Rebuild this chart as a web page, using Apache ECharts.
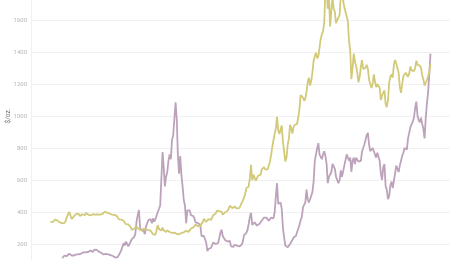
<!DOCTYPE html>
<html>
<head>
<meta charset="utf-8">
<script src="https://cdn.jsdelivr.net/npm/echarts@6/dist/echarts.min.js"></script>
<style>
html,body{margin:0;padding:0;background:#fff;overflow:hidden;width:450px;height:260px;}
#c{position:absolute;left:0;top:-60px;width:450px;height:360px;}
</style>
</head>
<body>
<div id="c"></div>
<script>
// Monthly series (mid-month values), $/oz.
const goldStart = [1992, 3];
const goldValues = [
  340, 338, 337, 343, 352, 342, 346, 343, 335, 333,
  329, 328, 332, 345, 370, 378, 400, 378, 356, 366, 374, 386,
  388, 381, 388, 375, 383, 386, 384, 380, 393, 388, 384, 378,
  378, 376, 386, 391, 384, 388, 385, 383, 384, 382, 387, 387,
  402, 408, 396, 392, 391, 386, 384, 387, 382, 381, 377, 368,
  354, 346, 352, 343, 345, 340, 324, 325, 323, 325, 305, 288,
  290, 297, 296, 308, 298, 292, 293, 284, 290, 296, 294, 290,
  286, 288, 285, 282, 276, 261, 255, 257, 268, 318, 293, 282,
  284, 302, 286, 280, 274, 287, 281, 275, 272, 270, 266, 271,
  265, 262, 263, 261, 273, 269, 267, 273, 285, 282, 275, 276,
  282, 296, 294, 303, 315, 322, 313, 310, 320, 316, 319, 335,
  358, 358, 338, 328, 356, 355, 350, 361, 380, 378, 390, 408,
  414, 405, 407, 402, 384, 392, 398, 401, 406, 421, 440, 442,
  424, 423, 434, 429, 422, 431, 424, 438, 457, 470, 477, 512,
  550, 556, 558, 612, 695, 598, 634, 632, 596, 586, 628, 630,
  632, 666, 655, 680, 666, 655, 666, 664, 714, 756, 808, 804,
  890, 925, 995, 910, 888, 890, 940, 838, 830, 715, 740, 820,
  860, 945, 925, 890, 930, 945, 935, 950, 995, 1045, 1130, 1140,
  1115, 1095, 1110, 1150, 1210, 1240, 1190, 1220, 1275, 1345, 1375, 1395,
  1360, 1375, 1425, 1480, 1510, 1530, 1580, 1780, 1800, 1670, 1740, 1560,
  1660, 1745, 1670, 1650, 1580, 1600, 1590, 1630, 1760, 1750, 1720, 1680,
  1670, 1620, 1595, 1470, 1410, 1230, 1300, 1390, 1340, 1310, 1270, 1210,
  1245, 1310, 1350, 1295, 1285, 1300, 1320, 1295, 1225, 1220, 1175, 1200,
  1260, 1215, 1180, 1200, 1195, 1175, 1100, 1130, 1130, 1160, 1075, 1055,
  1100, 1210, 1245, 1260, 1240, 1320, 1350, 1330, 1320, 1270, 1180, 1145,
  1200, 1250, 1245, 1270, 1260, 1245, 1265, 1310, 1285, 1275, 1280, 1300,
  1345, 1320, 1325, 1315, 1300, 1255, 1230, 1190, 1195, 1225, 1225, 1275,
  1325
];
const palladiumStart = [1993, 1];
const palladiumValues = [
  112, 118, 128, 132, 125, 128, 140, 135, 128, 130, 128, 130,
  135, 133, 135, 138, 140, 142, 148, 150, 148, 152, 150, 156,
  160, 155, 150, 163, 162, 165, 160, 152, 150, 145, 142, 135,
  130, 138, 132, 135, 138, 130, 130, 125, 118, 115, 110, 118,
  125, 145, 160, 172, 205, 190, 215, 200, 185, 200, 205, 230,
  240, 245, 265, 340, 380, 412, 305, 285, 290, 282, 262, 310,
  330, 350, 360, 355, 330, 360, 340, 355, 380, 400, 420, 440,
  445, 775, 680, 560, 620, 650, 720, 760, 730, 850, 880, 880,
  1085, 980, 760, 640, 750, 630, 560, 475, 440, 330, 410, 400,
  410, 380, 370, 375, 360, 335, 325, 330, 320, 320, 250, 240,
  250, 255, 210, 155, 170, 175, 175, 185, 210, 200, 200, 195,
  205, 235, 270, 290, 250, 240, 225, 220, 215, 220, 220, 185,
  185, 182, 195, 200, 190, 185, 185, 190, 195, 215, 255, 260,
  270, 290, 325, 370, 395, 320, 320, 335, 330, 315, 320, 325,
  335, 345, 350, 365, 370, 365, 365, 345, 340, 365, 370, 360,
  400, 500, 580, 450, 440, 460, 420, 300, 240, 190, 190, 180,
  185, 200, 200, 225, 240, 250, 250, 275, 295, 320, 350, 370,
  430, 420, 460, 540, 480, 460, 480, 490, 525, 590, 720, 760,
  800, 830, 760, 770, 730, 760, 780, 750, 700, 580, 620, 630,
  650, 700, 690, 670, 620, 615, 580, 600, 660, 620, 630, 690,
  700, 760, 760, 720, 740, 650, 720, 740, 700, 740, 730, 715,
  720, 720, 775, 800, 820, 830, 880, 895, 820, 780, 790, 800,
  780, 780, 740, 770, 780, 720, 640, 600, 680, 700, 560, 540,
  480, 500, 565, 590, 550, 545, 640, 690, 700, 650, 690, 700,
  750, 770, 800, 800, 790, 860, 850, 930, 935, 965, 990, 1050,
  1090, 1000, 975, 960, 990, 950, 920, 860, 990, 1080, 1150, 1260,
  1390
];
const yTicks = { min: 0, max: 2000, interval: 200 };
const xRange = ['1990-11-01', '2020-06-01'];

function toSeries(start, values) {
  return values.map((v, i) => {
    const y = start[0] + Math.floor((start[1] - 1 + i) / 12);
    const m = (start[1] - 1 + i) % 12;
    return [Date.UTC(y, m, 15), v];
  });
}

const chart = echarts.init(document.getElementById('c'), null, { renderer: 'canvas' });
chart.setOption({
  animation: false,
  grid: { left: 31, right: 0, top: 16, bottom: 24, containLabel: false, outerBoundsMode: 'none' },
  xAxis: {
    type: 'time',
    min: xRange[0],
    max: xRange[1],
    axisLine: { show: false },
    axisTick: { show: false },
    axisLabel: { show: false },
    splitLine: { show: false }
  },
  yAxis: {
    type: 'value',
    min: yTicks.min,
    max: yTicks.max,
    interval: yTicks.interval,
    name: '$/oz.',
    nameLocation: 'middle',
    nameGap: 19,
    nameMoveOverlap: false,
    nameTextStyle: { fontSize: 6.5, color: '#777', fontFamily: 'Roboto' },
    axisLine: { show: true, lineStyle: { color: '#f0f0f0' } },
    axisTick: { show: false },
    axisLabel: { fontSize: 6, color: '#b5b5b5', margin: 4, fontFamily: 'Roboto', formatter: (v) => String(v) },
    splitLine: { lineStyle: { color: '#f0f0f0', width: 1 } }
  },
  series: [
    {
      name: 'Palladium', type: 'line', showSymbol: false, symbol: 'none',
      data: toSeries(palladiumStart, palladiumValues),
      lineStyle: { color: '#bca2bb', width: 1.8 }
    },
    {
      name: 'Gold', type: 'line', showSymbol: false, symbol: 'none',
      data: toSeries(goldStart, goldValues),
      lineStyle: { color: '#d2ca78', width: 1.8 }
    }
  ]
});
</script>
</body>
</html>
